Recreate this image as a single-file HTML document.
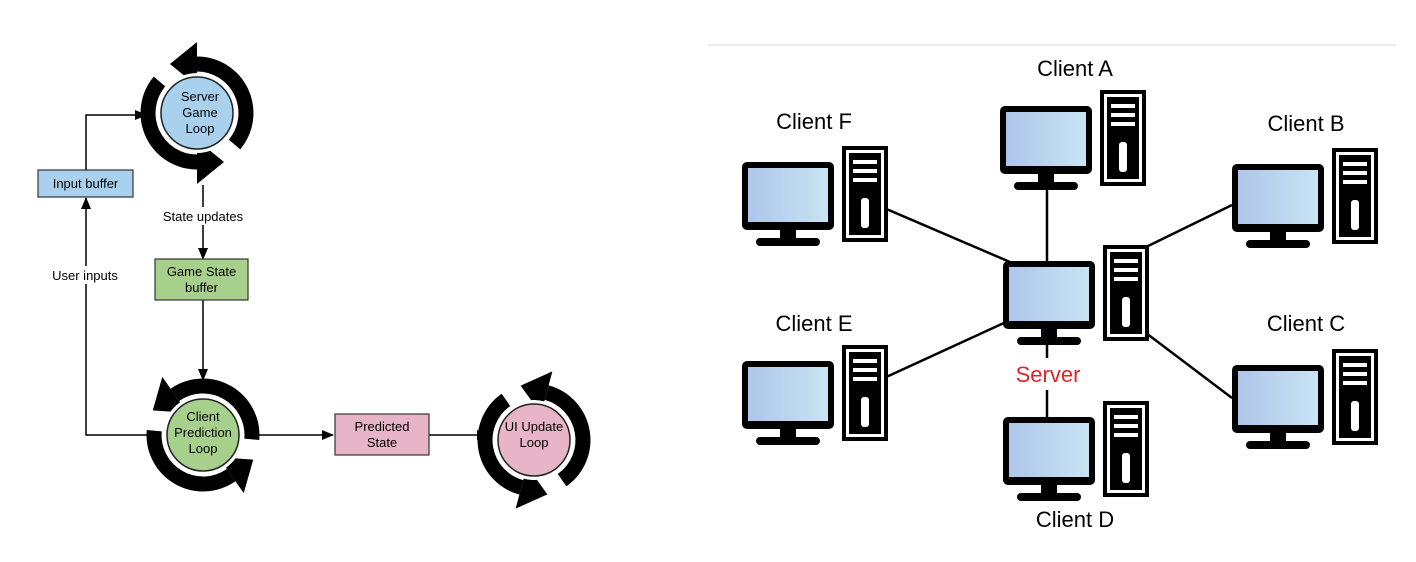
<!DOCTYPE html>
<html><head><meta charset="utf-8"><style>
html,body{margin:0;padding:0;background:#fff;}
svg{display:block;font-family:"Liberation Sans",Arial,sans-serif;}
</style></head><body>
<svg width="1416" height="562" viewBox="0 0 1416 562" xmlns="http://www.w3.org/2000/svg">
<defs>
<g id="loop">
 <path d="M37.5,31.5 A49,49 0 0 0 0,-49" fill="none" stroke="#000" stroke-width="15"/>
 <polygon points="-27,-49 0,-71 0,-27" fill="#000"/>
 <path d="M-37.5,-31.5 A49,49 0 0 0 0,49" fill="none" stroke="#000" stroke-width="15"/>
 <polygon points="27,49 0,27 0,71" fill="#000"/>
 <circle r="40" fill="#fff"/>
</g>
<linearGradient id="scr" x1="0" y1="0" x2="1" y2="0">
 <stop offset="0" stop-color="#aec6ea"/><stop offset="1" stop-color="#c8e4f4"/>
</linearGradient>
<g id="pc">
 <rect x="0" y="0" width="92" height="68" rx="5" fill="#000"/>
 <rect x="6" y="6" width="80" height="54" fill="url(#scr)"/>
 <rect x="38" y="68" width="16" height="9" fill="#000"/>
 <rect x="14" y="76" width="64" height="8" rx="4" fill="#000"/>
 <rect x="100" y="-16" width="46" height="96" fill="#000"/>
 <rect x="104" y="-12" width="38" height="88" fill="#fff"/>
 <rect x="107" y="-9" width="32" height="82" fill="#000"/>
 <rect x="111" y="-2" width="24" height="4" fill="#fff"/>
 <rect x="111" y="7" width="24" height="4" fill="#fff"/>
 <rect x="111" y="16" width="24" height="4" fill="#fff"/>
 <rect x="119" y="36" width="8" height="30" rx="3" fill="#fff"/>
</g>
<marker id="ah" markerWidth="12" markerHeight="12" refX="11" refY="6" orient="auto" markerUnits="userSpaceOnUse">
 <polygon points="0,1 12,6 0,11" fill="#000"/>
</marker>
</defs>

<use href="#loop" transform="translate(197,113)"/>
<circle cx="197" cy="113" r="36" fill="#a9d1ee" stroke="#222" stroke-width="1.5"/>
<text x="200" y="101" font-size="13" text-anchor="middle">Server</text>
<text x="200" y="117" font-size="13" text-anchor="middle">Game</text>
<text x="200" y="133" font-size="13" text-anchor="middle">Loop</text>

<use href="#loop" transform="translate(203,435) rotate(-35)"/>
<circle cx="203" cy="435" r="36" fill="#a8d08d" stroke="#222" stroke-width="1.5"/>
<text x="203" y="421" font-size="13" text-anchor="middle">Client</text>
<text x="203" y="437" font-size="13" text-anchor="middle">Prediction</text>
<text x="203" y="453" font-size="13" text-anchor="middle">Loop</text>

<use href="#loop" transform="translate(534,440) rotate(15)"/>
<circle cx="534" cy="440" r="36" fill="#e8b4c8" stroke="#222" stroke-width="1.5"/>
<text x="534" y="431" font-size="13" text-anchor="middle">UI Update</text>
<text x="534" y="447" font-size="13" text-anchor="middle">Loop</text>

<g stroke="#000" stroke-width="1.5" fill="none">
 <polyline points="86,170 86,115 146,115" marker-end="url(#ah)"/>
 <line x1="203" y1="185" x2="203" y2="259" marker-end="url(#ah)"/>
 <line x1="203" y1="300" x2="203" y2="380" marker-end="url(#ah)"/>
 <polyline points="150,435 86,435 86,198" marker-end="url(#ah)"/>
 <line x1="258" y1="435" x2="333" y2="435" marker-end="url(#ah)"/>
 <line x1="429" y1="435" x2="488" y2="435" marker-end="url(#ah)"/>
</g>
<rect x="150" y="207" width="100" height="18" fill="#fff"/>
<text x="203" y="221" font-size="13" text-anchor="middle">State updates</text>
<rect x="45" y="266" width="82" height="18" fill="#fff"/>
<text x="85" y="280" font-size="13" text-anchor="middle">User inputs</text>

<rect x="38" y="170" width="95" height="27" fill="#a9d1ee" stroke="#333" stroke-width="1.2"/>
<text x="85.5" y="188" font-size="13" text-anchor="middle">Input buffer</text>
<rect x="155" y="259" width="93" height="41" fill="#a8d08d" stroke="#333" stroke-width="1.2"/>
<text x="201.5" y="276" font-size="13" text-anchor="middle">Game State</text>
<text x="201.5" y="292" font-size="13" text-anchor="middle">buffer</text>
<rect x="335" y="414" width="94" height="41" fill="#e8b4c8" stroke="#333" stroke-width="1.2"/>
<text x="382" y="431" font-size="13" text-anchor="middle">Predicted</text>
<text x="382" y="447" font-size="13" text-anchor="middle">State</text>

<line x1="708" y1="45" x2="1396" y2="45" stroke="#e4e4e4" stroke-width="1.5"/>
<g stroke="#000" stroke-width="2.5">
 <line x1="884" y1="208" x2="1010" y2="262"/>
 <line x1="1232" y1="205" x2="1146" y2="247"/>
 <line x1="884" y1="378" x2="1006" y2="322"/>
 <line x1="1232" y1="398" x2="1146" y2="333"/>
 <line x1="1047" y1="185" x2="1047" y2="262"/>
 <line x1="1047" y1="340" x2="1047" y2="358"/>
 <line x1="1047" y1="390" x2="1047" y2="418"/>
</g>
<use href="#pc" transform="translate(1000,106)"/>
<use href="#pc" transform="translate(1003,261)"/>
<use href="#pc" transform="translate(742,162)"/>
<use href="#pc" transform="translate(1232,164)"/>
<use href="#pc" transform="translate(742,361)"/>
<use href="#pc" transform="translate(1232,365)"/>
<use href="#pc" transform="translate(1003,417)"/>

<g font-size="22" fill="#000" text-anchor="middle">
 <text x="1075" y="76">Client A</text>
 <text x="814" y="129">Client F</text>
 <text x="1306" y="131">Client B</text>
 <text x="814" y="331">Client E</text>
 <text x="1306" y="331">Client C</text>
 <text x="1075" y="527">Client D</text>
 <text x="1048" y="382" fill="#e0242a">Server</text>
</g>
</svg>
</body></html>
